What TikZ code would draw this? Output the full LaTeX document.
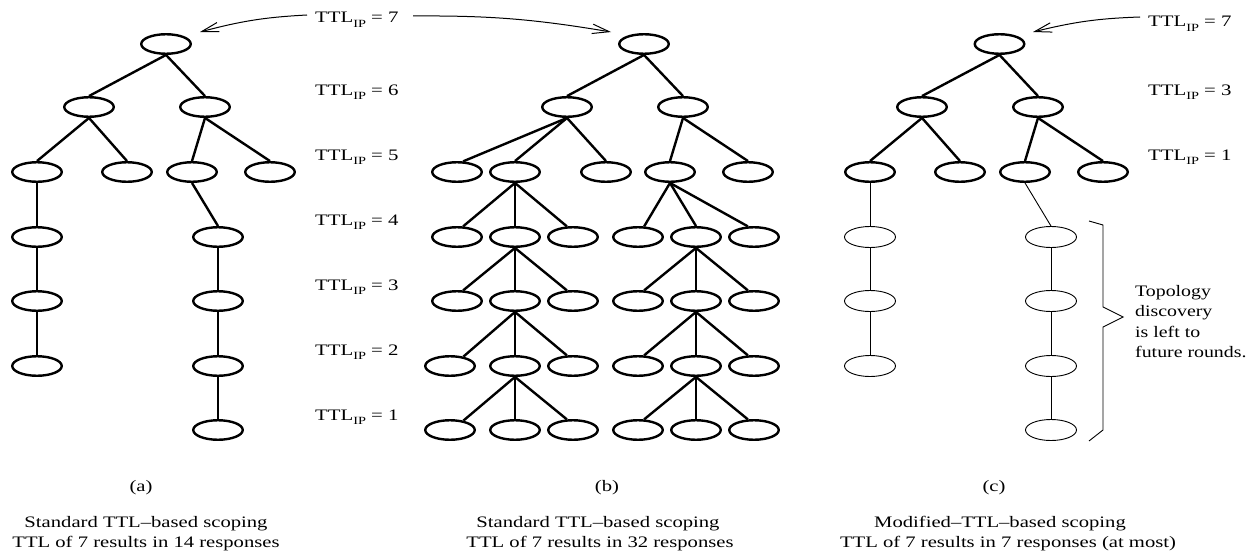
\documentclass[tikz,border=0pt]{standalone}
\usepackage{fontspec}
\setmainfont{Liberation Serif}
\usetikzlibrary{shapes.geometric,arrows.meta,bending}
\tikzset{
 nd/.style={ellipse,draw,line width=2.4pt,minimum width=49.5pt,minimum height=19.5pt,inner sep=0pt},
 tn/.style={ellipse,draw,line width=0.9pt,minimum width=51pt,minimum height=21pt,inner sep=0pt},
 ed/.style={line width=2.4pt},
 te/.style={line width=0.9pt},
 lbl/.style={anchor=base west,inner sep=0pt,font=\fontsize{16}{19}\selectfont},
 captxt/.style={anchor=base,inner sep=0pt,font=\fontsize{16}{19}\selectfont},
 arr/.style={line width=1pt,-{Straight Barb[length=17pt,width=9.5pt]}}
}
\newcommand\ttlab[1]{\scalebox{1.3}[1]{TTL\raisebox{-0.28em}{\fontsize{11}{11}\selectfont IP} = #1}}
\newcommand\sx[1]{\scalebox{1.29}[1]{#1}}
\begin{document}
\begin{tikzpicture}[x=1pt,y=-1pt]
\useasboundingbox (0,0) rectangle (1253,551);
% ---------- tree (a)
\node[nd] (a1) at (166,44) {};
\node[nd] (a2l) at (89,107) {};
\node[nd] (a2r) at (205,107) {};
\node[nd] (a3a) at (37,172) {};
\node[nd] (a3b) at (127,172) {};
\node[nd] (a3c) at (192,172) {};
\node[nd] (a3d) at (270,172) {};
\node[nd] (a4l) at (37,237) {};
\node[nd] (a5l) at (37,301) {};
\node[nd] (a6l) at (37,366) {};
\node[nd] (a4r) at (218,237) {};
\node[nd] (a5r) at (218,301) {};
\node[nd] (a6r) at (218,366) {};
\node[nd] (a7r) at (218,430) {};
\draw[ed] (a1.south) -- (a2l.north);
\draw[ed] (a1.south) -- (a2r.north);
\draw[ed] (a2l.south) -- (a3a.north);
\draw[ed] (a2l.south) -- (a3b.north);
\draw[ed] (a2r.south) -- (a3c.north);
\draw[ed] (a2r.south) -- (a3d.north);
\draw[ed] (a3a.south) -- (a4l.north);
\draw[ed] (a4l.south) -- (a5l.north);
\draw[ed] (a5l.south) -- (a6l.north);
\draw[ed] (a3c.south) -- (a4r.north);
\draw[ed] (a4r.south) -- (a5r.north);
\draw[ed] (a5r.south) -- (a6r.north);
\draw[ed] (a6r.south) -- (a7r.north);
% ---------- tree (b)
\node[nd] (b1) at (644,44) {};
\node[nd] (b2l) at (567,107) {};
\node[nd] (b2r) at (683,107) {};
\node[nd] (b3a) at (457,172) {};
\node[nd] (b3b) at (515,172) {};
\node[nd] (b3c) at (606,172) {};
\node[nd] (b3d) at (670,172) {};
\node[nd] (b3e) at (748,172) {};
\foreach \lv/\yy in {4/237,5/301} {
  \node[nd] (b\lv a) at (457,\yy) {};
  \node[nd] (b\lv b) at (515,\yy) {};
  \node[nd] (b\lv c) at (573,\yy) {};
  \node[nd] (b\lv d) at (638,\yy) {};
  \node[nd] (b\lv e) at (696,\yy) {};
  \node[nd] (b\lv f) at (754,\yy) {};
}
\foreach \lv/\yy in {6/366,7/430} {
  \node[nd] (b\lv a) at (450,\yy) {};
  \node[nd] (b\lv b) at (515,\yy) {};
  \node[nd] (b\lv c) at (573,\yy) {};
  \node[nd] (b\lv d) at (638,\yy) {};
  \node[nd] (b\lv e) at (696,\yy) {};
  \node[nd] (b\lv f) at (754,\yy) {};
}
\draw[ed] (b1.south) -- (b2l.north);
\draw[ed] (b1.south) -- (b2r.north);
\draw[ed] (b2l.south) -- (b3a.60);
\draw[ed] (b2l.south) -- (b3b.north);
\draw[ed] (b2l.south) -- (b3c.north);
\draw[ed] (b2r.south) -- (b3d.north);
\draw[ed] (b2r.south) -- (b3e.north);
\draw[ed] (b3b.south) -- (b4a.60);
\draw[ed] (b3b.south) -- (b4b.north);
\draw[ed] (b3b.south) -- (b4c.120);
\draw[ed] (b3d.south) -- (b4d.60);
\draw[ed] (b3d.south) -- (b4e.north);
\draw[ed] (b3d.south) -- (b4f.120);
\draw[ed] (b4b.south) -- (b5a.60);
\draw[ed] (b4b.south) -- (b5b.north);
\draw[ed] (b4b.south) -- (b5c.120);
\draw[ed] (b4e.south) -- (b5d.60);
\draw[ed] (b4e.south) -- (b5e.north);
\draw[ed] (b4e.south) -- (b5f.120);
\draw[ed] (b5b.south) -- (b6a.35);
\draw[ed] (b5b.south) -- (b6b.north);
\draw[ed] (b5b.south) -- (b6c.120);
\draw[ed] (b5e.south) -- (b6d.60);
\draw[ed] (b5e.south) -- (b6e.north);
\draw[ed] (b5e.south) -- (b6f.120);
\draw[ed] (b6b.south) -- (b7a.35);
\draw[ed] (b6b.south) -- (b7b.north);
\draw[ed] (b6b.south) -- (b7c.120);
\draw[ed] (b6e.south) -- (b7d.60);
\draw[ed] (b6e.south) -- (b7e.north);
\draw[ed] (b6e.south) -- (b7f.120);
% ---------- tree (c)
\node[nd] (c1) at (999.5,44) {};
\node[nd] (c2l) at (922,107) {};
\node[nd] (c2r) at (1038,107) {};
\node[nd] (c3a) at (870,172) {};
\node[nd] (c3b) at (960,172) {};
\node[nd] (c3c) at (1025,172) {};
\node[nd] (c3d) at (1103,172) {};
\node[tn] (c4l) at (870,237) {};
\node[tn] (c5l) at (870,301) {};
\node[tn] (c6l) at (870,366) {};
\node[tn] (c4r) at (1051,237) {};
\node[tn] (c5r) at (1051,301) {};
\node[tn] (c6r) at (1051,366) {};
\node[tn] (c7r) at (1051,430) {};
\draw[ed] (c1.south) -- (c2l.north);
\draw[ed] (c1.south) -- (c2r.north);
\draw[ed] (c2l.south) -- (c3a.north);
\draw[ed] (c2l.south) -- (c3b.north);
\draw[ed] (c2r.south) -- (c3c.north);
\draw[ed] (c2r.south) -- (c3d.north);
\draw[te] (c3a.south) -- (c4l.north);
\draw[te] (c4l.south) -- (c5l.north);
\draw[te] (c5l.south) -- (c6l.north);
\draw[te] (c3c.south) -- (c4r.north);
\draw[te] (c4r.south) -- (c5r.north);
\draw[te] (c5r.south) -- (c6r.north);
\draw[te] (c6r.south) -- (c7r.north);
% brace
\draw[te,line join=miter] (1089,221) -- (1103,225) -- (1103,307) -- (1123,317) -- (1103,327) -- (1103,430) -- (1089,441);
\node[lbl] (tp1) at (1135,296) {\scalebox{1.24}[1]{Topology}};
\node[lbl] (tp2) at (1135,316.5) {\scalebox{1.24}[1]{discovery}};
\node[lbl] (tp3) at (1135,337) {\scalebox{1.24}[1]{is left to}};
\node[lbl] (tp4) at (1135,357.5) {\scalebox{1.24}[1]{future rounds.}};
% ---------- TTL labels
\node[lbl] (t7) at (315,23) {\ttlab{7}};
\node[lbl] (t6) at (315,95.3) {\ttlab{6}};
\node[lbl] (t5) at (315,160.3) {\ttlab{5}};
\node[lbl] (t4) at (315,225.3) {\ttlab{4}};
\node[lbl] (t3) at (315,290.3) {\ttlab{3}};
\node[lbl] (t2) at (315,355.3) {\ttlab{2}};
\node[lbl] (t1) at (315,420.3) {\ttlab{1}};
\node[lbl] (u7) at (1148,27) {\ttlab{7}};
\node[lbl] (u3) at (1148,95.3) {\ttlab{3}};
\node[lbl] (u1) at (1148,160.3) {\ttlab{1}};
% ---------- arrows
\coordinate (s1) at (307,15);
\coordinate (e1) at (200,32);
\coordinate (s2) at (413,16);
\coordinate (e2) at (611,32);
\coordinate (s3) at (1140,17);
\coordinate (e3) at (1033,32);
\draw[arr] (s1) to[bend right=6] (e1);
\draw[arr] (s2) to[bend left=5] (e2);
\draw[arr] (s3) to[bend right=6] (e3);
% ---------- captions
\node[captxt] (la) at (141,491) {\sx{(a)}};
\node[captxt] (lb) at (607,491) {\sx{(b)}};
\node[captxt] (lc) at (994,491) {\sx{(c)}};
\node[captxt] (ca1) at (146,527.5) {\sx{Standard TTL--based scoping}};
\node[captxt] (ca2) at (146,547.5) {\sx{TTL of 7 results in 14 responses}};
\node[captxt] (cb1) at (598,527.5) {\sx{Standard TTL--based scoping}};
\node[captxt] (cb2) at (600,547.5) {\sx{TTL of 7 results in 32 responses}};
\node[captxt] (cc1) at (1000,527.5) {\sx{Modified--TTL--based scoping}};
\node[captxt] (cc2) at (1008,547.5) {\sx{TTL of 7 results in 7 responses (at most)}};
\end{tikzpicture}
\end{document}
